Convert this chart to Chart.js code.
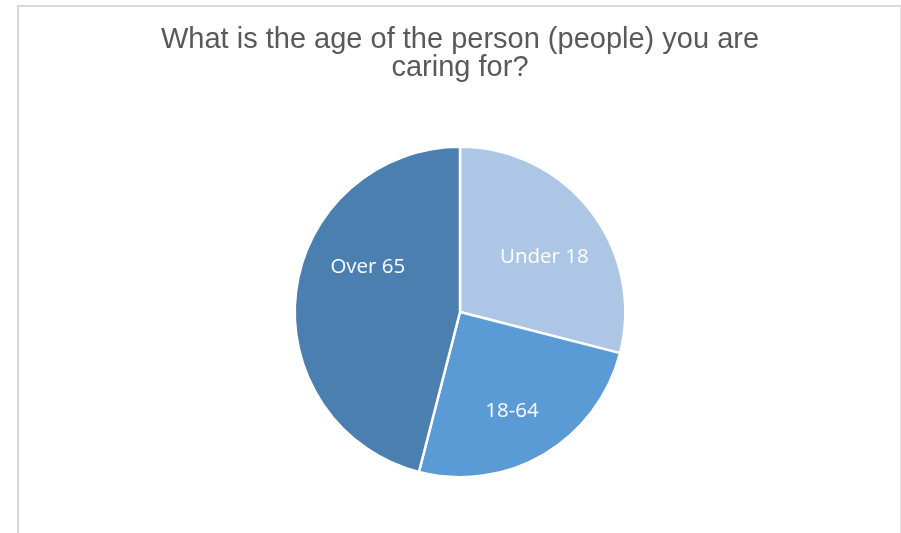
<!DOCTYPE html>
<html>
<head>
<meta charset="utf-8">
<script src="https://cdn.jsdelivr.net/npm/chart.js@4/dist/chart.umd.min.js"></script>
<style>
  body { margin: 0; background: #fff; overflow: hidden; }
  #wrap { position: relative; width: 901px; height: 533px; }
  #frame {
    position: absolute; left: 17px; top: 5px; width: 884px; height: 600px;
    box-sizing: border-box;
    border-left: 2px solid #d9d9d9; border-top: 2px solid #d9d9d9; border-right: 1px solid #e2e2e2;
    pointer-events: none;
  }
  #mycanvas { position: absolute; left: 0; top: 0; }
</style>
</head>
<body>
<div id="wrap">
  <canvas id="mycanvas" width="901" height="533"></canvas>
  <div id="frame"></div>
</div>
<script>
var titleLines = ['What is the age of the person (people) you are', 'caring for?'];
var ages = ['Under 18', '18-64', 'Over 65'];
var shares = [29, 25, 46];
var sliceColors = ['#adc6e6', '#5b9bd5', '#4a7fb0'];

// writes the category name inside each slice
var sliceLabels = {
	id: 'sliceLabels',
	afterDatasetsDraw: function(chart, args, opts) {
		var ctx = chart.ctx;
		var arcs = chart.getDatasetMeta(0).data;
		ctx.save();
		ctx.font = opts.font;
		ctx.fillStyle = opts.color;
		ctx.textAlign = 'center';
		ctx.textBaseline = 'middle';
		arcs.forEach(function(arc, i) {
			var p = arc.getProps(['x', 'y', 'startAngle', 'endAngle', 'outerRadius'], true);
			var a = (p.startAngle + p.endAngle) / 2 + opts.turn[i] * Math.PI / 180;
			var r = p.outerRadius * opts.radius[i];
			ctx.fillText(chart.data.labels[i], p.x + Math.cos(a) * r, p.y + Math.sin(a) * r);
		});
		ctx.restore();
	}
};

var ctx = document.getElementById('mycanvas');

var PieChart = new Chart(ctx, {
	type: 'pie',
	data: {
		labels: ages,
		datasets: [{
			data: shares,
			backgroundColor: sliceColors,
			borderColor: '#ffffff',
			borderWidth: 2.5
		}]
	},
	options: {
		responsive: false,
		animation: false,
		layout: { padding: { left: 20, right: 1, top: 0, bottom: 54.5 } },
		plugins: {
			legend: { display: false },
			tooltip: { enabled: false },
			title: {
				display: true,
				text: titleLines,
				color: '#595959',
				font: { family: '"Liberation Sans", Arial, sans-serif', size: 29, weight: 'normal', lineHeight: 0.95 },
				padding: { top: 26.25, bottom: 64.15 }
			},
			sliceLabels: {
				font: '20.5px "Open Sans", sans-serif',
				color: '#ffffff',
				radius: [0.61, 0.675, 0.62],
				turn: [4.6, 2.8, 18.7]
			}
		}
	},
	plugins: [sliceLabels]
});
</script>
</body>
</html>
